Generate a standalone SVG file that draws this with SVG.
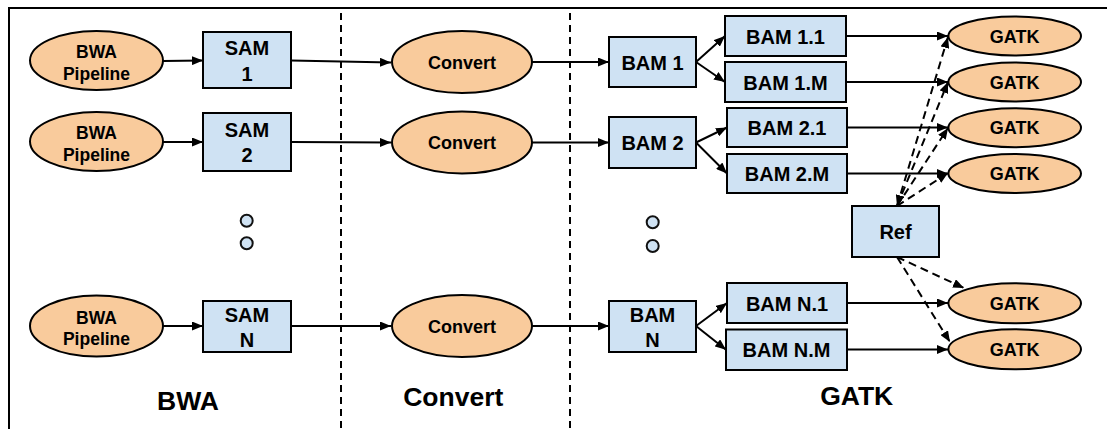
<svg xmlns="http://www.w3.org/2000/svg" width="1107" height="429" viewBox="0 0 1107 429">
  <defs>
    <marker id="arr" markerUnits="userSpaceOnUse" markerWidth="11" markerHeight="9" refX="11" refY="4.5" orient="auto-start-reverse" viewBox="0 0 11 9">
      <path d="M0,0 L11,4.5 L0,9 z" fill="#000"/>
    </marker>
  </defs>
  <style>
    .ell { fill: #f9cb9c; stroke: #000; stroke-width: 2; }
    .box { fill: #cfe2f3; stroke: #000; stroke-width: 2; }
    .dot { fill: #cfe2f3; stroke: #111; stroke-width: 2; }
    .t { font-family: "Liberation Sans", Arial, sans-serif; font-weight: bold; fill: #000; text-anchor: middle; }
    .s17 { font-size: 17.5px; }
    .s18 { font-size: 18px; }
    .s20 { font-size: 20px; }
    .s26 { font-size: 26.5px; }
    .c { fill: none; stroke: #000; stroke-width: 2; marker-end: url(#arr); }
    .d { fill: none; stroke: #000; stroke-width: 2; stroke-dasharray: 8 5; marker-end: url(#arr); }
    .sep { fill: none; stroke: #000; stroke-width: 2; stroke-dasharray: 7 5; }
    .frame { fill: none; stroke: #000; stroke-width: 2; }
  </style>

  <g id="frame">
    <path class="frame" d="M9,429 L9,8 L1107,8"/>
    <path class="sep" d="M341,13 L341,429"/>
    <path class="sep" d="M570,13 L570,429"/>
  </g>

  <g id="connectors">
    <path class="c" d="M163,61 L203,60.5"/>
    <path class="c" d="M163,142 L203,142"/>
    <path class="c" d="M163,326 L203,326"/>
    <path class="c" d="M291,60.5 L391,62.5"/>
    <path class="c" d="M291,142 L391,142.5"/>
    <path class="c" d="M291,326 L391,326"/>
    <path class="c" d="M532,62 L609,62"/>
    <path class="c" d="M532,142.5 L609,142.5"/>
    <path class="c" d="M532,326 L609,326"/>
    <path class="c" d="M696,62 L725,36"/>
    <path class="c" d="M696,62 L725,82"/>
    <path class="c" d="M696,142.5 L727,127.5"/>
    <path class="c" d="M696,142.5 L727,173.5"/>
    <path class="c" d="M696,326 L727,303"/>
    <path class="c" d="M696,326 L726,349.7"/>
    <path class="c" d="M846,36 L948,36"/>
    <path class="c" d="M846,82 L948,82"/>
    <path class="c" d="M847,127.5 L948,127.5"/>
    <path class="c" d="M847,173.5 L948,173.5"/>
    <path class="c" d="M847,303 L948,303"/>
    <path class="c" d="M847,349.5 L948,349.5"/>
    <path class="d" d="M897,206 L948,37" style="marker-start: url(#arr);"/>
    <path class="d" d="M897,206 L948,82"/>
    <path class="d" d="M897,206 L948,128"/>
    <path class="d" d="M897,206 L948,173"/>
    <path class="d" d="M897,257 L964,288"/>
    <path class="d" d="M897,257 L950,342"/>
  </g>

  <g id="bwa1">
    <ellipse class="ell" cx="96.5" cy="60.5" rx="66.5" ry="29.5"/>
    <text class="t s17" x="96.5" y="58">BWA</text>
    <text class="t s17" x="96.5" y="79.5">Pipeline</text>
  </g>
  <g id="bwa2">
    <ellipse class="ell" cx="96.5" cy="141.5" rx="66.5" ry="29.5"/>
    <text class="t s17" x="96.5" y="139">BWA</text>
    <text class="t s17" x="96.5" y="160.5">Pipeline</text>
  </g>
  <g id="bwaN">
    <ellipse class="ell" cx="96.5" cy="326" rx="66.5" ry="30.5"/>
    <text class="t s17" x="96.5" y="323.5">BWA</text>
    <text class="t s17" x="96.5" y="345">Pipeline</text>
  </g>

  <g id="sam1">
    <rect class="box" x="203" y="32" width="88" height="56"/>
    <text class="t s20" x="247" y="55">SAM</text>
    <text class="t s20" x="247" y="80.5">1</text>
  </g>
  <g id="sam2">
    <rect class="box" x="203" y="113" width="88" height="58"/>
    <text class="t s20" x="247" y="136.7">SAM</text>
    <text class="t s20" x="247" y="161.7">2</text>
  </g>
  <g id="samN">
    <rect class="box" x="203" y="301" width="88" height="51"/>
    <text class="t s20" x="247" y="321.5">SAM</text>
    <text class="t s20" x="247" y="346.5">N</text>
  </g>

  <g id="dots-bwa">
    <circle class="dot" cx="246.7" cy="220.7" r="6"/>
    <circle class="dot" cx="246.7" cy="243.3" r="6"/>
  </g>

  <g id="convert1">
    <ellipse class="ell" cx="462" cy="62" rx="70" ry="31"/>
    <text class="t s18" x="462" y="68.5">Convert</text>
  </g>
  <g id="convert2">
    <ellipse class="ell" cx="462" cy="142.5" rx="70" ry="31"/>
    <text class="t s18" x="462" y="149">Convert</text>
  </g>
  <g id="convertN">
    <ellipse class="ell" cx="462" cy="326" rx="70" ry="31"/>
    <text class="t s18" x="462" y="332.5">Convert</text>
  </g>

  <g id="bam1">
    <rect class="box" x="609" y="37" width="87" height="50"/>
    <text class="t s20" x="652.5" y="69.5">BAM 1</text>
  </g>
  <g id="bam2">
    <rect class="box" x="609" y="117" width="87" height="51"/>
    <text class="t s20" x="652.5" y="150">BAM 2</text>
  </g>
  <g id="bamN">
    <rect class="box" x="609" y="301" width="87" height="51"/>
    <text class="t s20" x="652.5" y="321.5">BAM</text>
    <text class="t s20" x="652.5" y="346.5">N</text>
  </g>

  <g id="dots-bam">
    <circle class="dot" cx="652.7" cy="222.3" r="6"/>
    <circle class="dot" cx="652.7" cy="246" r="6"/>
  </g>

  <g id="bam1-1">
    <rect class="box" x="725" y="16" width="121" height="40"/>
    <text class="t s20" x="785.5" y="43.5">BAM 1.1</text>
  </g>
  <g id="bam1-M">
    <rect class="box" x="725" y="62" width="121" height="40"/>
    <text class="t s20" x="785.5" y="89.5">BAM 1.M</text>
  </g>
  <g id="bam2-1">
    <rect class="box" x="727" y="108" width="120" height="39"/>
    <text class="t s20" x="787" y="135">BAM 2.1</text>
  </g>
  <g id="bam2-M">
    <rect class="box" x="727" y="154" width="120" height="39"/>
    <text class="t s20" x="787" y="181">BAM 2.M</text>
  </g>
  <g id="bamN-1">
    <rect class="box" x="727" y="283" width="120" height="40"/>
    <text class="t s20" x="787" y="310.5">BAM N.1</text>
  </g>
  <g id="bamN-M">
    <rect class="box" x="726" y="329.5" width="121" height="40.5"/>
    <text class="t s20" x="786.5" y="357">BAM N.M</text>
  </g>

  <g id="ref">
    <rect class="box" x="852" y="206" width="87" height="51"/>
    <text class="t s20" x="895.5" y="239">Ref</text>
  </g>

  <g id="gatk1">
    <ellipse class="ell" cx="1014.7" cy="36" rx="66.3" ry="19.5"/>
    <text class="t s18" x="1014.7" y="42.5">GATK</text>
  </g>
  <g id="gatk2">
    <ellipse class="ell" cx="1014.7" cy="82" rx="66.3" ry="19.5"/>
    <text class="t s18" x="1014.7" y="88.5">GATK</text>
  </g>
  <g id="gatk3">
    <ellipse class="ell" cx="1014.7" cy="127.7" rx="66.3" ry="19.5"/>
    <text class="t s18" x="1014.7" y="134.2">GATK</text>
  </g>
  <g id="gatk4">
    <ellipse class="ell" cx="1014.7" cy="173.5" rx="66.3" ry="19.5"/>
    <text class="t s18" x="1014.7" y="180">GATK</text>
  </g>
  <g id="gatk5">
    <ellipse class="ell" cx="1014.7" cy="303.3" rx="66.3" ry="20"/>
    <text class="t s18" x="1014.7" y="309.8">GATK</text>
  </g>
  <g id="gatk6">
    <ellipse class="ell" cx="1014.7" cy="349.3" rx="66.3" ry="20"/>
    <text class="t s18" x="1014.7" y="355.8">GATK</text>
  </g>

  <g id="section-labels">
    <text class="t s26" x="188" y="410">BWA</text>
    <text class="t s26" x="453.3" y="406">Convert</text>
    <text class="t s26" x="856.7" y="404.5">GATK</text>
  </g>
</svg>
